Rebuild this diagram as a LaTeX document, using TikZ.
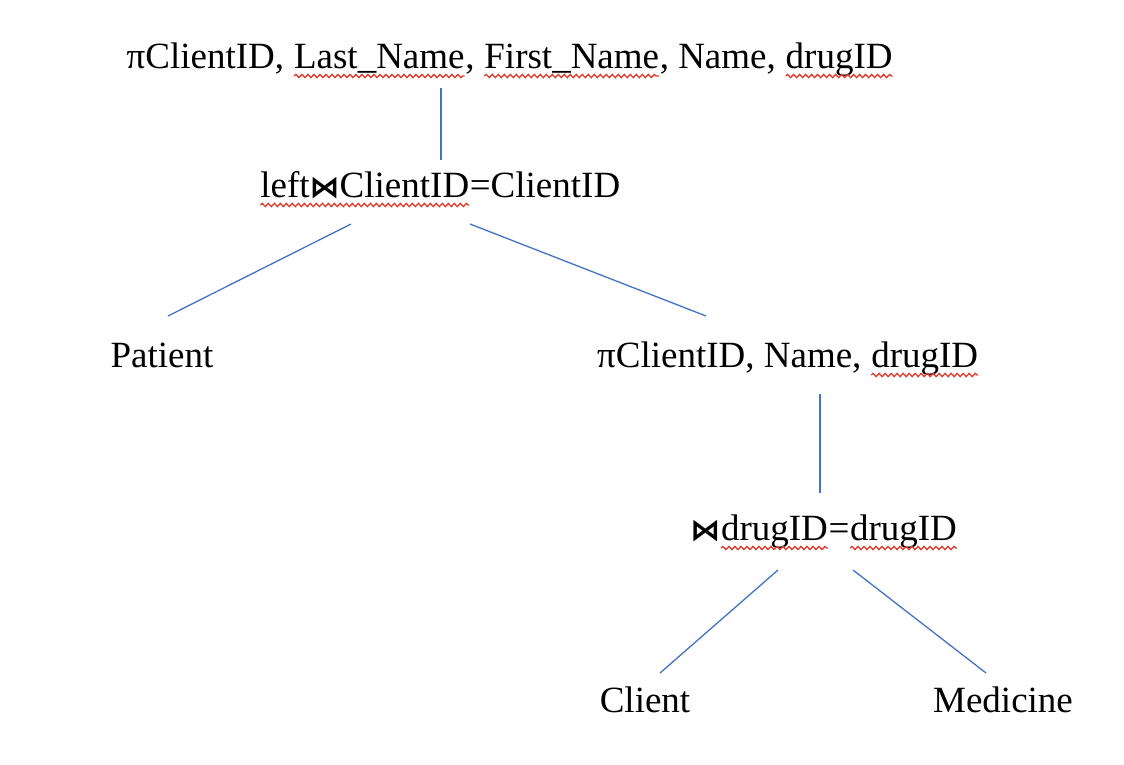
\documentclass[tikz,border=0pt]{standalone}
\usepackage{fontspec}
\setmainfont{Liberation Serif}
\newfontfamily\symfont{DejaVu Sans}
\usetikzlibrary{decorations.pathmorphing}
\newcommand{\jbow}{{\symfont\bfseries\fontsize{30}{32}\selectfont ⋈}}
\newcommand{\wv}[1]{\tikz[baseline=(w.base)]{\node[inner sep=0pt,outer sep=0pt](w){#1};\draw[spell,decorate,decoration={snake,amplitude=1.6pt,segment length=6pt}] ([yshift=-8pt]w.base west) -- ([yshift=-8pt]w.base east);}}
\begin{document}
\begin{tikzpicture}[x=1pt,y=-1pt,
  lbl/.style={anchor=base,inner sep=0pt,font=\fontsize{37}{40}\selectfont},
  edge/.style={draw=linkblue,line width=1.3pt},
  spell/.style={draw=spellred,line width=1.3pt}]
\definecolor{linkblue}{HTML}{4472C4}
\definecolor{spellred}{HTML}{E0392B}
\useasboundingbox[fill=white] (0,0) rectangle (1124,764);
\node[lbl] (proj1) at (510,68) {πClientID, \wv{Last\_Name}, \wv{First\_Name}, Name, \wv{drugID}};
\node[lbl] (lj) at (440,197) {\wv{left\jbow ClientID}=ClientID};
\node[lbl] (pat) at (162,367) {Patient};
\node[lbl] (proj2) at (788,367) {πClientID, Name, \wv{drugID}};
\node[lbl] (jn) at (824,540) {\jbow\wv{drugID}=\wv{drugID}};
\node[lbl] (cli) at (645,712) {Client};
\node[lbl] (med) at (1003,712) {Medicine};
\coordinate (a1) at (441,88);  \coordinate (a2) at (441,160);
\coordinate (b1) at (351,224); \coordinate (b2) at (168,316);
\coordinate (c1) at (470,224); \coordinate (c2) at (706,316);
\coordinate (d1) at (820,394); \coordinate (d2) at (820,493);
\coordinate (e1) at (778,570); \coordinate (e2) at (660,673);
\coordinate (f1) at (853,570); \coordinate (f2) at (986,673);
\draw[edge] (a1) -- (a2);
\draw[edge] (b1) -- (b2);
\draw[edge] (c1) -- (c2);
\draw[edge] (d1) -- (d2);
\draw[edge] (e1) -- (e2);
\draw[edge] (f1) -- (f2);
\end{tikzpicture}
\end{document}
